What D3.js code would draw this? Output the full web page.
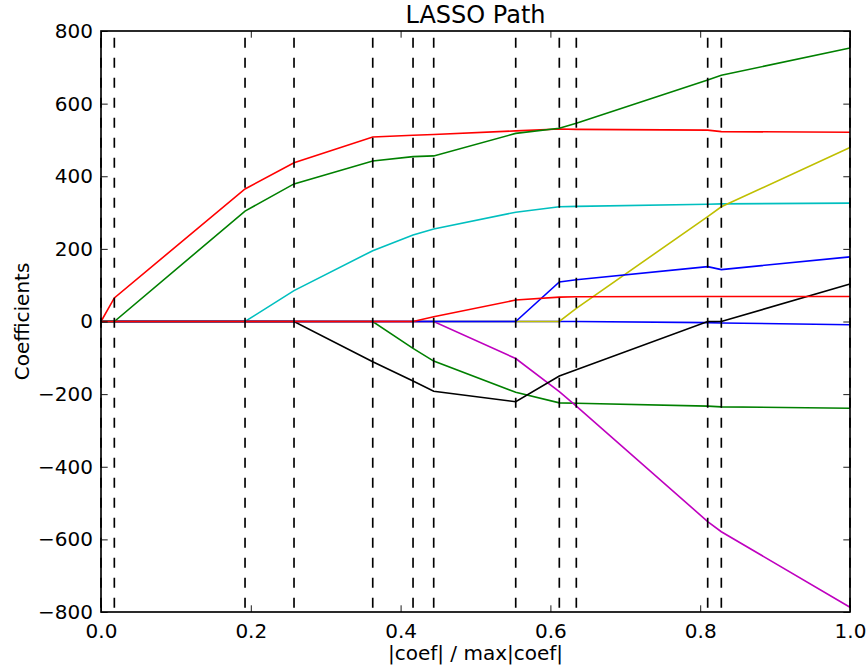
<!DOCTYPE html>
<html>
<head>
<meta charset="utf-8">
<script src="https://cdn.jsdelivr.net/npm/d3@7"></script>
<style>
  body { margin: 0; background: #fff; }
  text { font-family: "DejaVu Sans", sans-serif; }
</style>
</head>
<body>
<div id="chart"></div>
<script>
// breakpoints of the path, |coef| / max|coef|
const xx = [0, 0.0178, 0.1923, 0.2577, 0.3628, 0.4166, 0.4442, 0.5537, 0.6119, 0.6346, 0.81, 0.8282, 1.0];

// coefficient value of each feature at every breakpoint
const age = [0, 0, 0, 0, 0, 0, 0, 0, 0, 0, -3, -4, -9];
const sex = [0, 0, 0, 0, 0, -74, -109, -195, -224, -225, -233, -235, -239];
const bmi = [0, 65, 365, 437, 508, 513, 515, 525, 530, 529, 527, 523, 521];
const bp = [0, 0, 0, 85, 195, 238, 255, 301, 316, 317, 323, 324, 326];
const s1 = [0, 0, 0, 0, 0, 0, 0, -102, -193, -233, -551, -579, -787];
const s2 = [0, 0, 0, 0, 0, 0, 0, 0, 0, 36, 289, 316, 479];
const s3 = [0, 0, 0, 0, -111, -164, -192, -221, -150, -133, 0, 0, 103];
const s4 = [0, 0, 0, 0, 0, 0, 0, 0, 109, 115, 151, 143, 178];
const s5 = [0, 0, 304, 379, 442, 454, 456, 518, 532, 546, 665, 678, 753];
const s6 = [0, 0, 0, 0, 0, 0, 13, 59, 67, 68, 69, 69, 69];

const series = [age, sex, bmi, bp, s1, s2, s3, s4, s5, s6];
// matplotlib classic colour cycle
const colors = ["#0000ff", "#008000", "#ff0000", "#00bfbf", "#bf00bf", "#bfbf00", "#000000"];

const xTicks = [0, 0.2, 0.4, 0.6, 0.8, 1.0];
const yTicks = [-800, -600, -400, -200, 0, 200, 400, 600, 800];

const width = 866;
const height = 670;
const margin = { top: 31, right: 16, bottom: 58, left: 101 };
const innerW = width - margin.left - margin.right;
const innerH = height - margin.top - margin.bottom;

const svg = d3
  .select("#chart")
  .append("svg")
  .attr("width", width)
  .attr("height", height);

const g = svg.append("g").attr("transform", `translate(${margin.left},${margin.top})`);

const x = d3.scaleLinear().domain([0, 1]).range([0, innerW]);
const y = d3.scaleLinear().domain([-800, 800]).range([innerH, 0]);

const line = d3
  .line()
  .x((d, i) => x(xx[i]))
  .y((d) => y(d));

g.append("g")
  .selectAll("path")
  .data(series)
  .join("path")
  .attr("fill", "none")
  .attr("stroke", (d, i) => colors[i % colors.length])
  .attr("stroke-width", 1.6)
  .attr("d", line);

// dashed lines at every breakpoint
g.append("g")
  .selectAll("line")
  .data(xx)
  .join("line")
  .attr("x1", (d) => x(d))
  .attr("x2", (d) => x(d))
  .attr("y1", y(800))
  .attr("y2", y(-800))
  .attr("stroke", "#000")
  .attr("stroke-width", 1.67)
  .attr("stroke-dasharray", "10,10")
  .attr("stroke-dashoffset", 13.3);

// ticks, inward on all four sides
const tickLen = 6.7;
const fmtY = d3.format("d");
const fmtX = d3.format(".1f");

const xAxisB = d3.axisBottom(x).tickValues(xTicks).tickFormat(fmtX).tickSizeInner(-tickLen).tickSizeOuter(0).tickPadding(12);
const xAxisT = d3.axisTop(x).tickValues(xTicks).tickFormat("").tickSizeInner(-tickLen).tickSizeOuter(0);
const yAxisL = d3.axisLeft(y).tickValues(yTicks).tickFormat(fmtY).tickSizeInner(-tickLen).tickSizeOuter(0).tickPadding(8);
const yAxisR = d3.axisRight(y).tickValues(yTicks).tickFormat("").tickSizeInner(-tickLen).tickSizeOuter(0);

function styleAxis(sel) {
  sel.select(".domain").remove();
  sel.selectAll(".tick line").attr("stroke", "#000").attr("stroke-width", 0.9);
  sel.selectAll(".tick text").attr("fill", "#000").style("font-size", "20px").style("font-family", "DejaVu Sans");
}

g.append("g").attr("transform", `translate(0,${innerH})`).call(xAxisB).call(styleAxis);
g.append("g").call(xAxisT).call(styleAxis);
g.append("g").call(yAxisL).call(styleAxis);
g.append("g").attr("transform", `translate(${innerW},0)`).call(yAxisR).call(styleAxis);

g.append("rect")
  .attr("width", innerW)
  .attr("height", innerH)
  .attr("fill", "none")
  .attr("stroke", "#000")
  .attr("stroke-width", 1.67);

svg.append("text")
  .attr("x", margin.left + innerW / 2)
  .attr("y", 23)
  .attr("text-anchor", "middle")
  .style("font-size", "24px")
  .text("LASSO Path");

svg.append("text")
  .attr("x", margin.left + innerW / 2)
  .attr("y", 660)
  .attr("text-anchor", "middle")
  .style("font-size", "20px")
  .text("|coef| / max|coef|");

svg.append("text")
  .attr("transform", `translate(29,${margin.top + innerH / 2}) rotate(-90)`)
  .attr("text-anchor", "middle")
  .style("font-size", "20px")
  .text("Coefficients");
</script>
</body>
</html>
